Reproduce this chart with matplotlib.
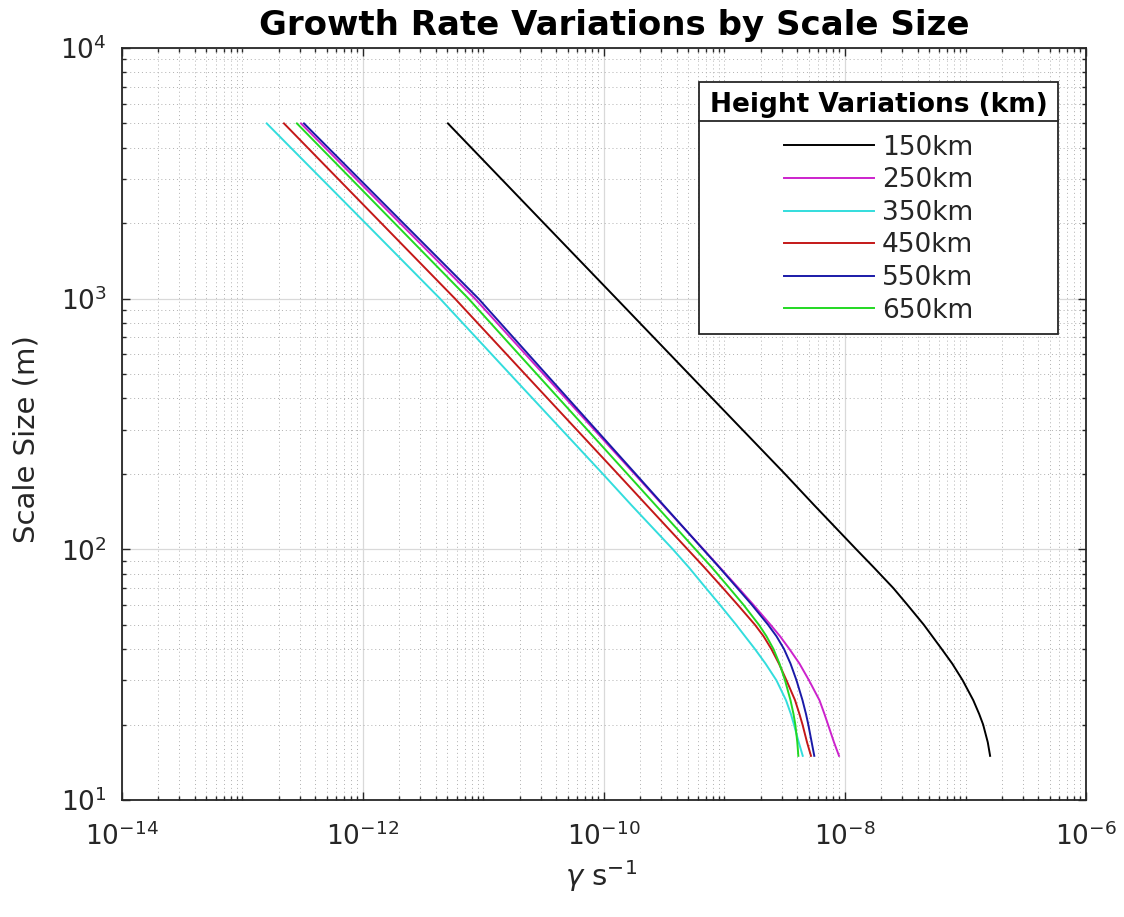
import matplotlib
matplotlib.use("Agg")
import matplotlib.pyplot as plt
from matplotlib.ticker import LogLocator, NullFormatter, LogFormatterSciNotation
from matplotlib.lines import Line2D

# scale sizes (m), shared by every height
scale_size = [5000, 2000, 1000, 500, 200, 150, 100, 85, 70, 60,
              50, 45, 40, 35, 30, 25, 22, 20, 17, 15]

# growth rate (1/s)
gamma_150 = [5.07e-12, 3.17e-11, 1.27e-10, 5.07e-10, 3.17e-9, 5.55e-9, 1.24e-8,
             1.72e-8, 2.52e-8, 3.30e-8, 4.51e-8, 5.30e-8, 6.35e-8, 7.76e-8,
             9.48e-8, 1.16e-7, 1.30e-7, 1.40e-7, 1.53e-7, 1.60e-7]
gamma_250 = [3.06e-13, 2.03e-12, 8.50e-12, 3.15e-11, 1.79e-10, 3.08e-10, 6.69e-10,
             9.09e-10, 1.31e-9, 1.74e-9, 2.41e-9, 2.89e-9, 3.46e-9, 4.19e-9,
             5.03e-9, 6.14e-9, 6.76e-9, 7.23e-9, 8.10e-9, 8.92e-9]
gamma_350 = [1.59e-13, 1.05e-12, 4.36e-12, 1.66e-11, 9.77e-11, 1.69e-10, 3.73e-10,
             5.03e-10, 7.02e-10, 9.18e-10, 1.25e-9, 1.48e-9, 1.79e-9, 2.19e-9,
             2.70e-9, 3.24e-9, 3.56e-9, 3.77e-9, 4.13e-9, 4.46e-9]
gamma_450 = [2.21e-13, 1.42e-12, 5.80e-12, 2.21e-11, 1.30e-10, 2.26e-10, 4.94e-10,
             6.76e-10, 9.72e-10, 1.29e-9, 1.79e-9, 2.11e-9, 2.45e-9, 2.83e-9,
             3.27e-9, 3.85e-9, 4.19e-9, 4.44e-9, 4.84e-9, 5.22e-9]
gamma_550 = [3.24e-13, 2.16e-12, 9.09e-12, 3.31e-11, 1.83e-10, 3.12e-10, 6.64e-10,
             9.00e-10, 1.28e-9, 1.69e-9, 2.30e-9, 2.70e-9, 3.12e-9, 3.53e-9,
             3.96e-9, 4.44e-9, 4.75e-9, 4.96e-9, 5.29e-9, 5.56e-9]
gamma_650 = [2.83e-13, 1.83e-12, 7.51e-12, 2.77e-11, 1.56e-10, 2.68e-10, 5.74e-10,
             7.80e-10, 1.10e-9, 1.44e-9, 1.93e-9, 2.23e-9, 2.55e-9, 2.86e-9,
             3.18e-9, 3.53e-9, 3.74e-9, 3.87e-9, 4.02e-9, 4.10e-9]

labels = ['150km', '250km', '350km', '450km', '550km', '650km']
series = [gamma_150, gamma_250, gamma_350, gamma_450, gamma_550, gamma_650]
colors = ['#000000', '#cc22cc', '#33dddd', '#c41818', '#1a1aa8', '#22d822']

x_ticks = [1e-14, 1e-12, 1e-10, 1e-8, 1e-6]
y_ticks = [10, 100, 1000, 10000]

plt.rcParams['font.family'] = ['DejaVu Sans']
fig = plt.figure(figsize=(11.24, 9.17), dpi=100)
ax = fig.add_axes([0.1085, 0.1276, 0.8577, 0.8201])

for g, c, lab in zip(series, colors, labels):
    ax.plot(g, scale_size, color=c, lw=1.4, label=lab)

ax.set_xscale('log')
ax.set_yscale('log')
ax.set_xlim(1e-14, 1e-6)
ax.set_ylim(10, 1e4)
ax.set_xticks(x_ticks)
ax.set_yticks(y_ticks)
ax.xaxis.set_major_formatter(LogFormatterSciNotation())
ax.yaxis.set_major_formatter(LogFormatterSciNotation())
ax.xaxis.set_minor_locator(LogLocator(base=10, subs=range(1, 10), numticks=50))
ax.xaxis.set_minor_formatter(NullFormatter())
ax.yaxis.set_minor_locator(LogLocator(base=10, subs=range(2, 10), numticks=50))
ax.yaxis.set_minor_formatter(NullFormatter())

ax.grid(which='major', color='#d9d9d9', ls='-', lw=0.9)
ax.grid(which='minor', color='#b0b0b0', ls=(0, (1, 3)), lw=0.7)
ax.set_axisbelow(True)

ax.tick_params(which='both', direction='in', top=True, right=True,
               colors='#262626', width=1.0)
ax.tick_params(which='major', length=6, labelsize=19)
ax.tick_params(axis='x', which='major', pad=16)
ax.tick_params(axis='y', which='major', pad=11)
ax.tick_params(which='minor', length=3)
for s in ax.spines.values():
    s.set_linewidth(1.3)
    s.set_color('#262626')

ax.set_title('Growth Rate Variations by Scale Size', fontsize=24.5,
             fontweight='bold', pad=9, x=0.511)
ax.set_xlabel(r'$\gamma$ s$^{-1}$', fontsize=21, color='#262626')
ax.set_ylabel('Scale Size (m)', fontsize=21, color='#262626')
ax.xaxis.set_label_coords(0.497, -0.077)
ax.yaxis.set_label_coords(-0.084, 0.48)

leg = ax.legend(loc='upper right', bbox_to_anchor=(0.971, 0.955),
                borderaxespad=0, fontsize=19, title='Height Variations (km)',
                title_fontproperties={'weight': 'bold', 'size': 19},
                fancybox=False, edgecolor='#262626', framealpha=1,
                handlelength=3.4, handletextpad=0.3, labelspacing=0.25,
                borderpad=0.4)
leg.get_frame().set_linewidth(1.3)
for t in leg.get_texts():
    t.set_color('#262626')
# a little more room between the title and the entries
leg._legend_box.sep = 0.25 * 19 + 7

# separator under the legend title, as in the original
fig.canvas.draw()
r = fig.canvas.get_renderer()
tb = leg.get_title().get_window_extent(r)
fb = leg.get_frame().get_window_extent(r)
inv = fig.transFigure.inverted()
(x0, y0), (x1, _) = inv.transform([(fb.x0, tb.y0 - 3), (fb.x1, tb.y0 - 3)])
fig.add_artist(Line2D([x0, x1], [y0, y0], transform=fig.transFigure,
                      color='#262626', lw=1.3))

fig.savefig('out.png', dpi=100)
